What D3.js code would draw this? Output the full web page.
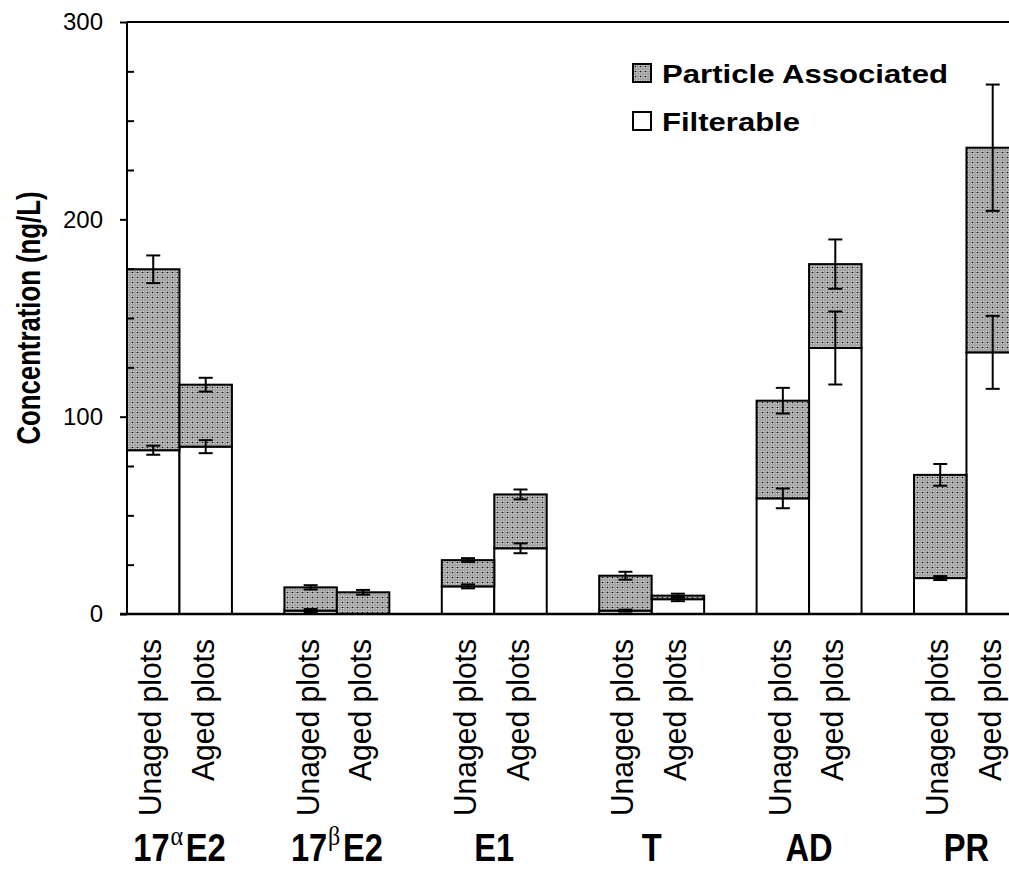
<!DOCTYPE html>
<html>
<head>
<meta charset="utf-8">
<script src="https://cdn.jsdelivr.net/npm/d3@7"></script>
<style>
  html, body { margin: 0; padding: 0; background: #fff; }
  svg { display: block; }
  text { font-family: "Liberation Sans", Arial, sans-serif; fill: #000; }
</style>
</head>
<body>
<svg id="chart" width="1009" height="873"></svg>
<script>
// Compounds (group labels) and the two plot types within each group
const groups = ["17αE2", "17βE2", "E1", "T", "AD", "PR"];
const plotTypes = ["Unaged plots", "Aged plots"];
const seriesNames = ["Particle Associated", "Filterable"];

// Filterable concentration (ng/L), per group: [unaged, aged]
const filterableUnaged = [83.0, 1.7, 14.0, 1.7, 58.6, 18.2];
const filterableAged   = [84.8, 0.0, 33.3, 7.5, 134.8, 132.6];
const filterableErrUnaged = [2.3, 0.8, 1.0, 0.5, 5.0, 1.0];
const filterableErrAged   = [3.3, 0.0, 2.5, 1.0, 18.5, 18.5];

// Particle-associated concentration (ng/L), stacked on top of filterable
const particleUnaged = [91.7, 11.8, 13.3, 17.7, 49.5, 52.3];
const particleAged   = [31.4, 11.0, 27.3, 1.8, 42.5, 103.7];
// Error on the total (filterable + particle associated)
const totalErrUnaged = [7.0, 1.1, 1.0, 2.0, 6.5, 5.5];
const totalErrAged   = [3.5, 1.2, 2.5, 1.0, 12.5, 32.0];

// Axis ticks
const yMajorTicks = [0, 100, 200, 300];
const yMinorTicks = [25, 50, 75, 125, 150, 175, 225, 250, 275];
const yTitle = "Concentration (ng/L)";

const svg = d3.select("#chart");

// Stipple fill for the particle-associated segment
const defs = svg.append("defs");
const pat = defs.append("pattern")
  .attr("id", "stipple")
  .attr("patternUnits", "userSpaceOnUse")
  .attr("width", 5).attr("height", 5);
pat.append("rect").attr("width", 5).attr("height", 5).attr("fill", "#a6a6a6");
pat.append("rect").attr("x", 1).attr("y", 1).attr("width", 3).attr("height", 3).attr("fill", "#ececec");
pat.append("circle").attr("cx", 2.5).attr("cy", 2.5).attr("r", 1.1).attr("fill", "#1a1a1a");

// Scales
const x0 = 127;
const groupStep = 157.4;
const xGroup = d3.scaleBand()
  .domain(groups)
  .range([x0, x0 + groupStep * groups.length])
  .paddingInner(0).paddingOuter(0);
const xPlot = d3.scaleBand()
  .domain(plotTypes)
  .range([0, xGroup.bandwidth() * 2 / 3])
  .padding(0);
const y = d3.scaleLinear().domain([0, 300]).range([614, 22]);

// One row per bar
const rows = [];
groups.forEach((g, i) => {
  rows.push({ group: g, plot: plotTypes[0], filt: filterableUnaged[i], filtErr: filterableErrUnaged[i],
              part: particleUnaged[i], totErr: totalErrUnaged[i] });
  rows.push({ group: g, plot: plotTypes[1], filt: filterableAged[i], filtErr: filterableErrAged[i],
              part: particleAged[i], totErr: totalErrAged[i] });
});
const barX = d => xGroup(d.group) + xPlot(d.plot);
const bw = xPlot.bandwidth();

// Top frame line at 300
svg.append("line")
  .attr("x1", x0).attr("x2", 1009)
  .attr("y1", y(300)).attr("y2", y(300))
  .attr("stroke", "#000").attr("stroke-width", 2);

// Bars: filterable (white) then particle associated (stippled)
const bars = svg.append("g");
bars.selectAll("rect.filt").data(rows).join("rect")
  .attr("class", "filt")
  .attr("x", barX).attr("width", bw)
  .attr("y", d => y(d.filt)).attr("height", d => y(0) - y(d.filt))
  .attr("fill", "#fff").attr("stroke", "#000").attr("stroke-width", 2);
bars.selectAll("rect.part").data(rows).join("rect")
  .attr("class", "part")
  .attr("x", barX).attr("width", bw)
  .attr("y", d => y(d.filt + d.part)).attr("height", d => y(d.filt) - y(d.filt + d.part))
  .attr("fill", "url(#stipple)").attr("stroke", "#000").attr("stroke-width", 2);

// Error bars
const capW = 14;
function errBar(sel, valueFn, errFn) {
  const g = sel.append("g").attr("stroke", "#000").attr("stroke-width", 2);
  const data = rows.filter(d => errFn(d) > 0);
  const cx = d => barX(d) + bw / 2;
  g.selectAll("line.v").data(data).join("line")
    .attr("x1", cx).attr("x2", cx)
    .attr("y1", d => y(valueFn(d) + errFn(d))).attr("y2", d => y(valueFn(d) - errFn(d)));
  g.selectAll("line.t").data(data).join("line")
    .attr("x1", d => cx(d) - capW / 2).attr("x2", d => cx(d) + capW / 2)
    .attr("y1", d => y(valueFn(d) + errFn(d))).attr("y2", d => y(valueFn(d) + errFn(d)));
  g.selectAll("line.b").data(data).join("line")
    .attr("x1", d => cx(d) - capW / 2).attr("x2", d => cx(d) + capW / 2)
    .attr("y1", d => y(valueFn(d) - errFn(d))).attr("y2", d => y(valueFn(d) - errFn(d)));
}
errBar(svg, d => d.filt, d => d.filtErr);
errBar(svg, d => d.filt + d.part, d => d.totErr);

// Y axis: major ticks outward with labels, minor ticks inward
const yAxis = d3.axisLeft(y).tickValues(yMajorTicks).tickSize(7).tickPadding(17);
const ya = svg.append("g").attr("transform", `translate(${x0},0)`).call(yAxis);
ya.select(".domain").attr("stroke-width", 2).attr("d", `M0,${y(300)}V${y(0)}`);
ya.selectAll(".tick line").attr("stroke-width", 2);
ya.selectAll(".tick text")
  .style("font-family", '"Liberation Sans", Arial, sans-serif')
  .style("font-size", "24px").attr("fill", "#000");
const yMinor = d3.axisRight(y).tickValues(yMinorTicks).tickSize(7).tickFormat("");
const ym = svg.append("g").attr("transform", `translate(${x0},0)`).call(yMinor);
ym.select(".domain").remove();
ym.selectAll(".tick line").attr("stroke-width", 2);

// X axis baseline
svg.append("line")
  .attr("x1", x0 - 7).attr("x2", 1009)
  .attr("y1", y(0)).attr("y2", y(0))
  .attr("stroke", "#000").attr("stroke-width", 2.5);

// Y axis title
svg.append("text")
  .attr("transform", `translate(40,${(y(0) + y(300)) / 2}) rotate(-90) scale(0.78,1)`)
  .attr("text-anchor", "middle")
  .style("font-size", "33px").style("font-weight", "bold")
  .text(yTitle);

// Rotated plot-type labels under each bar
svg.append("g").selectAll("text").data(rows).join("text")
  .attr("transform", d => `translate(${barX(d) + bw / 2 + 8},639) rotate(-90) scale(0.97,1)`)
  .attr("text-anchor", "end")
  .style("font-size", "31px")
  .text(d => d.plot);

// Group labels, with Greek letters raised in a serif face
const gl = svg.append("g").selectAll("text").data(groups).join("text")
  .attr("transform", g => `translate(${xGroup(g) + xPlot.bandwidth()},861) scale(0.86,1)`)
  .attr("text-anchor", "middle")
  .style("font-size", "38px").style("font-weight", "bold");
gl.each(function (g) {
  const t = d3.select(this);
  const parts = g.split(/([αβ])/).filter(s => s.length);
  let raised = false;
  parts.forEach(p => {
    if (/[αβ]/.test(p)) {
      t.append("tspan").attr("dy", -16).attr("dx", 1)
        .style("font-family", '"Liberation Serif", "DejaVu Serif", serif')
        .style("font-weight", "normal").style("font-size", "28px")
        .text(p);
      raised = true;
    } else {
      const ts = t.append("tspan").text(p);
      if (raised) { ts.attr("dy", 16).attr("dx", 3); raised = false; }
    }
  });
});

// Legend
const legendFills = ["url(#stipple)", "#fff"];
const legendWidths = [286, 138];
const lg = svg.append("g").selectAll("g").data(seriesNames).join("g")
  .attr("transform", (d, i) => `translate(633,${64 + i * 48})`);
lg.append("rect").attr("width", 18).attr("height", 18)
  .attr("fill", (d, i) => legendFills[i]).attr("stroke", "#000").attr("stroke-width", 2);
lg.append("text").attr("x", 29).attr("y", 18.5)
  .attr("textLength", (d, i) => legendWidths[i]).attr("lengthAdjust", "spacingAndGlyphs")
  .style("font-size", "26px").style("font-weight", "bold")
  .text(d => d);
</script>
</body>
</html>
